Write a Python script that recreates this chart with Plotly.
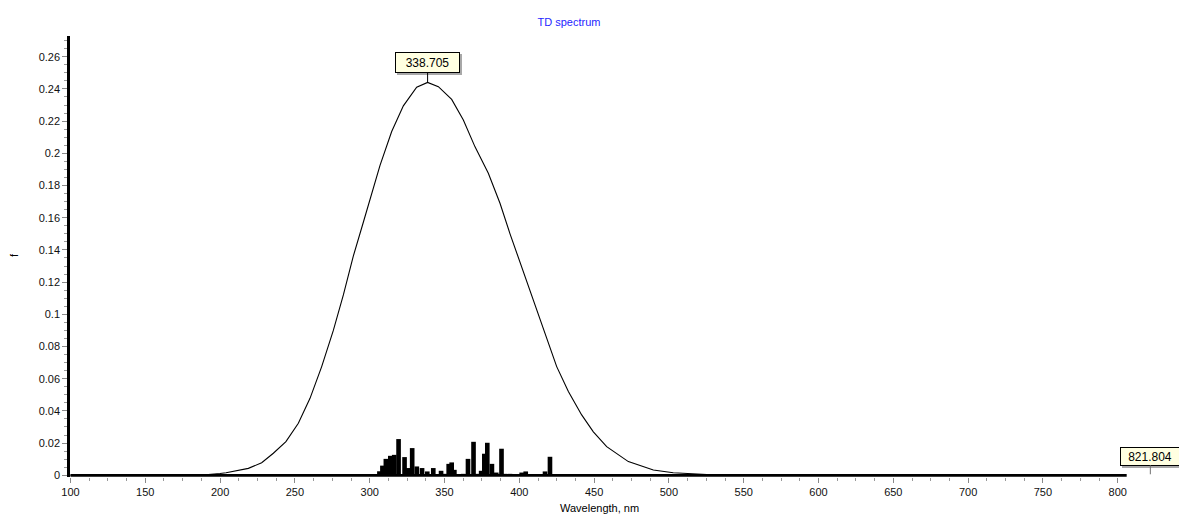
import plotly.graph_objects as go

# ---------------- data ----------------
curve_nm = [100, 186, 200, 204, 218.9, 227.8, 235.6, 244.0, 252.3, 260.1, 267.9, 275.7,
            282.4, 289.0, 295.7, 301.3, 306.9, 314.7, 322.5, 331.4, 338.705, 345.9, 354.8,
            362.6, 370.4, 379.3, 387.1, 393.8, 401.6, 409.4, 417.2, 425.0, 432.8,
            441.7, 449.5, 458.4, 472.9, 489.6, 502.9, 518.6, 535, 800]
curve_f = [0, 0, 0.0011, 0.0016, 0.0043, 0.0078, 0.0137, 0.0209, 0.0323, 0.0478, 0.0675, 0.090,
           0.112, 0.136, 0.1570, 0.1745, 0.1925, 0.2135, 0.2295, 0.2410, 0.2440, 0.2414, 0.2335,
           0.2207, 0.204, 0.1876, 0.169, 0.150, 0.1296, 0.1089, 0.088, 0.0675, 0.052,
           0.0375, 0.027, 0.0178, 0.0085, 0.0033, 0.0016, 0.0006, 0, 0]

stick_nm = [306.5, 308.5, 310.8, 313.8, 316.4, 319.3, 323.3, 325.8, 328.4, 331.5, 335.0,
            338.5, 342.5, 347.7, 350.5, 352.8, 354.8, 356.6, 362.6, 365.7, 369.4, 372.0,
            374.5, 376.6, 378.6, 381.7, 384.6, 388.1, 390.4, 393.8, 401.6, 404.3, 417.2, 420.5]
stick_f = [0.0025, 0.0060, 0.0102, 0.0121, 0.0127, 0.0225, 0.0113, 0.0045, 0.0169, 0.0055, 0.0045,
           0.0024, 0.0045, 0.0028, 0.0009, 0.0071, 0.0080, 0.0034, 0.0009, 0.0102, 0.0208, 0.0009,
           0.0028, 0.0134, 0.0202, 0.0071, 0.0017, 0.0165, 0.0009, 0.0009, 0.0017, 0.0024, 0.0024, 0.0115]

peak_label = "338.705"
peak_nm = 338.705
edge_label = "821.804"
edge_nm = 821.804

x_major = [100, 150, 200, 250, 300, 350, 400, 450, 500, 550, 600, 650, 700, 750, 800]
x_minor = [100 + 12.5 * i for i in range(57) if (12.5 * i) % 50 != 0]
y_major = [0, 0.02, 0.04, 0.06, 0.08, 0.1, 0.12, 0.14, 0.16, 0.18, 0.2, 0.22, 0.24, 0.26]
y_major_text = ["0", "0.02", "0.04", "0.06", "0.08", "0.1", "0.12", "0.14", "0.16", "0.18",
                "0.2", "0.22", "0.24", "0.26"]
y_minor = [round(0.005 * i, 3) for i in range(55) if i % 4 != 0]

FONT = "Liberation Sans, Arial, sans-serif"

fig = go.Figure()
fig.add_trace(go.Bar(x=stick_nm, y=stick_f, width=3.1, marker=dict(color="black", line=dict(width=0)),
                     hoverinfo="x+y"))
fig.add_trace(go.Scatter(x=curve_nm, y=curve_f, mode="lines",
                         line=dict(color="black", width=1.1)))

peak_f = max(curve_f)

# x-axis line (only up to ~806 as in reference)
fig.add_shape(type="line", xref="x", yref="y", x0=100, x1=806, y0=0, y1=0,
              line=dict(color="black", width=2.7), layer="above")

# shadows
for xv, yv, txt, w, h, ax, ay in [(peak_nm, peak_f, peak_label, 59, 15, 0, -19.5),
                                  (edge_nm, 0, edge_label, 54, 13, 0, -19)]:
    fig.add_annotation(x=xv, y=yv, xref="x", yref="y", text=txt, showarrow=True,
                       arrowcolor="rgba(0,0,0,0)", ax=ax, ay=ay, xshift=2, yshift=-2,
                       width=w, height=h, borderpad=2, borderwidth=1,
                       bgcolor="#a8a8a8", bordercolor="#a8a8a8",
                       font=dict(family=FONT, size=12, color="rgba(0,0,0,0)"))
fig.add_annotation(x=peak_nm, y=peak_f, xref="x", yref="y", text=peak_label, showarrow=True,
                   arrowhead=0, arrowwidth=1, arrowcolor="black", ax=0, ay=-19.5, standoff=0,
                   width=59, height=15, borderpad=2, borderwidth=1,
                   bgcolor="#ffffe1", bordercolor="black",
                   font=dict(family=FONT, size=12, color="black"))
fig.add_annotation(x=edge_nm, y=0, xref="x", yref="y", text=edge_label, showarrow=True,
                   arrowhead=0, arrowwidth=1, arrowcolor="#707070", ax=0, ay=-19, standoff=1,
                   width=54, height=13, borderpad=2, borderwidth=1,
                   bgcolor="#ffffe1", bordercolor="black",
                   font=dict(family=FONT, size=12, color="black"))

# axis titles
L, T, B = 70, 36, 38
W, H = 1179, 515
pw, ph = W - L, H - T - B
fig.add_annotation(xref="paper", yref="paper", x=(599.5 - L) / pw, y=(H - B - 508) / ph,
                   text="Wavelength, nm", showarrow=False, xanchor="center", yanchor="middle",
                   font=dict(family=FONT, size=11, color="black"))
fig.add_annotation(xref="paper", yref="paper", x=(14 - L) / pw, y=(H - B - 255) / ph,
                   text="f", showarrow=False, textangle=-90, xanchor="center", yanchor="middle",
                   font=dict(family=FONT, size=11, color="black"))

fig.update_layout(
    width=W, height=H,
    margin=dict(l=L, r=0, t=T, b=B),
    paper_bgcolor="white", plot_bgcolor="white",
    showlegend=False, barmode="overlay",
    title=dict(text="TD spectrum", x=569 / W, y=1 - 22 / H, xanchor="center", yanchor="middle",
               font=dict(family=FONT, size=11, color="#1f1fff")),
    xaxis=dict(range=[99.67, 840.97], showgrid=False, zeroline=False, showline=False,
               tickmode="array", tickvals=x_major, ticks="outside", ticklen=5, tickwidth=1,
               tickcolor="#8a8a8a", tickfont=dict(family=FONT, size=11, color="#111"),
               minor=dict(tickmode="array", tickvals=x_minor, ticks="outside", ticklen=3,
                          tickwidth=1, tickcolor="#9a9a9a", showgrid=False)),
    yaxis=dict(range=[-0.00106, 0.27286], showgrid=False, zeroline=False, showline=True,
               linecolor="black", linewidth=2.5,
               tickmode="array", tickvals=y_major, ticktext=y_major_text, ticks="outside",
               ticklen=5, tickwidth=1, tickcolor="#8a8a8a",
               tickfont=dict(family=FONT, size=11, color="#111"),
               minor=dict(tickmode="array", tickvals=y_minor, ticks="outside", ticklen=3,
                          tickwidth=1, tickcolor="#9a9a9a", showgrid=False)),
)

fig.write_html("out.html")
